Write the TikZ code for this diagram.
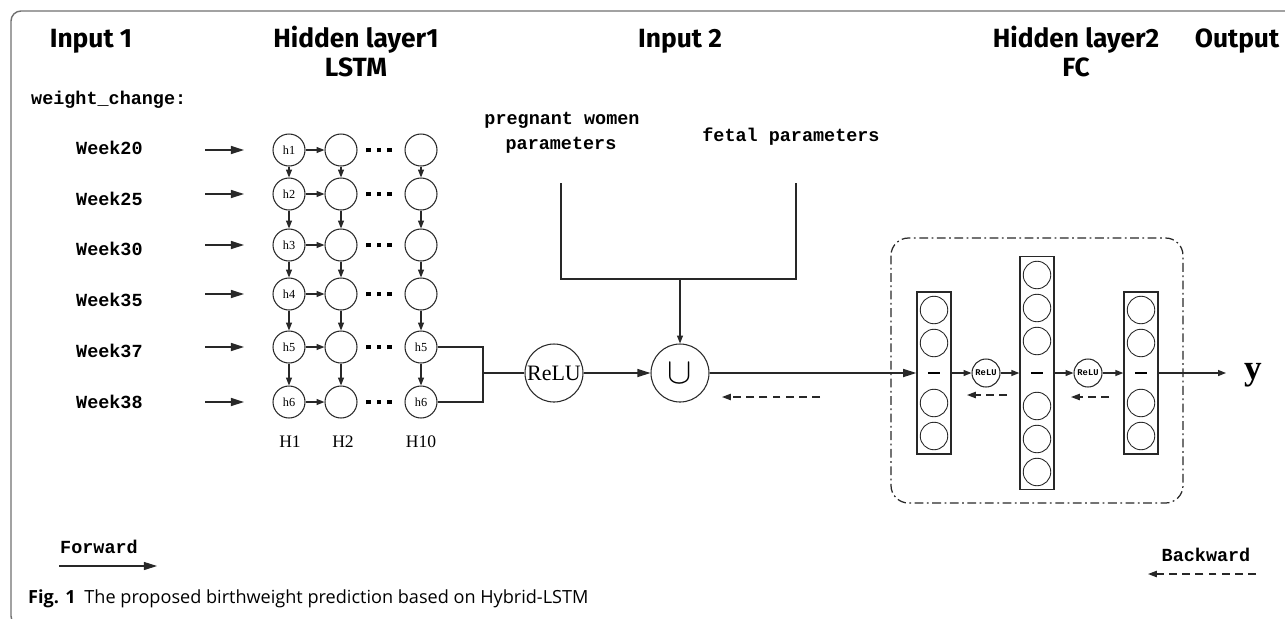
\documentclass[tikz,border=0pt]{standalone}
\usepackage{fontspec}
\setmainfont{Liberation Serif}
\newfontfamily\TitleFont{Fira Sans}
\newfontfamily\MonoFont{Liberation Mono}
\newfontfamily\CaptionFont{Open Sans}
\usepackage{xcolor}
\definecolor{Col1}{RGB}{40,40,40}
\definecolor{Col2}{RGB}{112,112,112}
\usepackage{tikz}
\usetikzlibrary{arrows.meta}
\tikzstyle{Title}=[font=\TitleFont\bfseries\fontsize{15}{15}\selectfont,anchor=base]
\tikzstyle{Mono}=[font=\MonoFont\bfseries\fontsize{10.5}{12}\selectfont]
\tikzstyle{Cell}=[circle,draw=Col1,line width=.6pt,minimum size=6.4mm,inner sep=0pt,
font=\fontsize{7}{7}\selectfont]
\tikzstyle{Edge}=[draw=Col1,line width=.7pt]
\tikzstyle{Arc}=[Edge,-{Triangle[length=4.5pt,width=3.4pt]}]
\tikzstyle{InArc}=[Edge,line width=.8pt,-{Triangle[length=7.5pt,width=4.6pt]}]
\tikzstyle{BackArc}=[Edge,dash pattern=on 4.5pt off 3pt,-{Triangle[length=5pt,width=3.6pt]}]
\tikzstyle{Act}=[circle,draw=Col1,line width=.6pt,minimum size=11.6mm,inner sep=0pt]
\tikzstyle{SmallAct}=[circle,draw=Col1,line width=.6pt,minimum size=5.6mm,inner sep=0pt,
font=\MonoFont\bfseries\fontsize{5}{5}\selectfont]
\tikzstyle{Unit}=[circle,draw=Col1,line width=.5pt,minimum size=5.5mm,inner sep=0pt]
\tikzstyle{Layer}=[rectangle,draw=Col1,line width=.8pt,minimum width=6.8mm,inner sep=0pt]
\tikzstyle{Bar}=[inner sep=0pt]
\newcommand{\Dots}{\rule{2.8pt}{2.8pt}\hspace{3.4pt}\rule{2.8pt}{2.8pt}\hspace{3.4pt}\rule{2.8pt}{2.8pt}}

\begin{document}
\begin{tikzpicture}[x=.2mm,y=-.2mm]
        \useasboundingbox(0,0)rectangle(1285,618);
        \draw[Col2,line width=.8pt,rounded corners=2mm](1295,11)--(11,11)--(11,626)--(60,626);
        % titles
        \node[Title](t1)at(91,47){Input 1};
        \node[Title](t2)at(356,47){Hidden layer1};
        \node[Title](t3)at(356,76){LSTM};
        \node[Title](t4)at(680,47){Input 2};
        \node[Title](t5)at(1076,47){Hidden layer2};
        \node[Title](t6)at(1076,76){FC};
        \node[Title](t7)at(1237,47){Output};
        % input 1
        \node[Mono,anchor=base west](wc)at(25,104){weight\_change:};
        \node[Mono,anchor=west](w1)at(70,148){Week20};
        \node[Mono,anchor=west](w2)at(70,199){Week25};
        \node[Mono,anchor=west](w3)at(70,249){Week30};
        \node[Mono,anchor=west](w4)at(70,300){Week35};
        \node[Mono,anchor=west](w5)at(70,351){Week37};
        \node[Mono,anchor=west](w6)at(70,402){Week38};
        \coordinate(s1)at(205,150);\coordinate(e1)at(244,150);
        \coordinate(s2)at(205,194);\coordinate(e2)at(244,194);
        \coordinate(s3)at(205,245);\coordinate(e3)at(244,245);
        \coordinate(s4)at(205,294);\coordinate(e4)at(244,294);
        \coordinate(s5)at(205,347);\coordinate(e5)at(244,347);
        \coordinate(s6)at(205,402);\coordinate(e6)at(244,402);
        \draw[InArc](s1)--(e1);
        \draw[InArc](s2)--(e2);
        \draw[InArc](s3)--(e3);
        \draw[InArc](s4)--(e4);
        \draw[InArc](s5)--(e5);
        \draw[InArc](s6)--(e6);
        % hidden layer 1
        \node[Cell](a1)at(289,150){h1};
        \node[Cell](a2)at(289,194){h2};
        \node[Cell](a3)at(289,245){h3};
        \node[Cell](a4)at(289,294){h4};
        \node[Cell](a5)at(289,347){h5};
        \node[Cell](a6)at(289,402){h6};
        \node[Cell](b1)at(341,150){};
        \node[Cell](b2)at(341,194){};
        \node[Cell](b3)at(341,245){};
        \node[Cell](b4)at(341,294){};
        \node[Cell](b5)at(341,347){};
        \node[Cell](b6)at(341,402){};
        \node[Cell](z1)at(421,150){};
        \node[Cell](z2)at(421,194){};
        \node[Cell](z3)at(421,245){};
        \node[Cell](z4)at(421,294){};
        \node[Cell](z5)at(421,347){h5};
        \node[Cell](z6)at(421,402){h6};
        \node[Bar](d1)at(379,150){\Dots};
        \node[Bar](d2)at(379,194){\Dots};
        \node[Bar](d3)at(379,245){\Dots};
        \node[Bar](d4)at(379,294){\Dots};
        \node[Bar](d5)at(379,347){\Dots};
        \node[Bar](d6)at(379,402){\Dots};
        \draw[Arc](a1)--(b1);
        \draw[Arc](a2)--(b2);
        \draw[Arc](a3)--(b3);
        \draw[Arc](a4)--(b4);
        \draw[Arc](a5)--(b5);
        \draw[Arc](a6)--(b6);
        \draw[Arc](a1)--(a2);
        \draw[Arc](a2)--(a3);
        \draw[Arc](a3)--(a4);
        \draw[Arc](a4)--(a5);
        \draw[Arc](a5)--(a6);
        \draw[Arc](b1)--(b2);
        \draw[Arc](b2)--(b3);
        \draw[Arc](b3)--(b4);
        \draw[Arc](b4)--(b5);
        \draw[Arc](b5)--(b6);
        \draw[Arc](z1)--(z2);
        \draw[Arc](z2)--(z3);
        \draw[Arc](z3)--(z4);
        \draw[Arc](z4)--(z5);
        \draw[Arc](z5)--(z6);
        \node(H1)at(290,442){H1};
        \node(H2)at(343,442){H2};
        \node(H10)at(421,442){H10};
        % input 2
        \node[Act,font=\fontsize{12.5}{12.5}\selectfont](R)at(554,373){ReLU};
        \node[Act](U)at(680,373){\fontsize{21}{21}\selectfont$\cup$};
        \coordinate(j)at(483,373);
        \draw[Edge](z5)-|(j);
        \draw[Edge](z6)-|(j);
        \draw[Edge](j)--(R);
        \draw[InArc](R)--(U);
        \node[Mono](p1)at(562,120){pregnant women};
        \node[Mono](p2)at(561,145){parameters};
        \node[Mono](p3)at(791,137){fetal parameters};
        \coordinate(g1)at(561,183);
        \coordinate(g2)at(561,279);
        \coordinate(g3)at(796,279);
        \coordinate(g4)at(796,183);
        \coordinate(g5)at(680,279);
        \draw[Edge](g1)--(g2)--(g3)--(g4);
        \draw[Arc](g5)--(U);
        \coordinate(k5)at(820,397);\coordinate(k6)at(722,397);
        \draw[BackArc](k5)--(k6);
        % hidden layer 2
        \draw[Edge,dash pattern=on 5pt off 2pt on 1pt off 2pt,rounded corners=3.5mm]
            (891,238)rectangle(1183,503);
        \node[Layer,minimum height=32.4mm](L1)at(934,373){};
        \node[Layer,minimum height=46.6mm](L2)at(1037,373){};
        \node[Layer,minimum height=32.4mm](L3)at(1141,373){};
        \node[Unit](u11)at(934,310){};
        \node[Unit](u12)at(934,343){};
        \node[Unit](u13)at(934,403){};
        \node[Unit](u14)at(934,436){};
        \node[Unit](u21)at(1037,275){};
        \node[Unit](u22)at(1037,308){};
        \node[Unit](u23)at(1037,341){};
        \node[Unit](u24)at(1037,406){};
        \node[Unit](u25)at(1037,439){};
        \node[Unit](u26)at(1037,472){};
        \node[Unit](u31)at(1141,310){};
        \node[Unit](u32)at(1141,343){};
        \node[Unit](u33)at(1141,403){};
        \node[Unit](u34)at(1141,436){};
        \node[Bar](m1)at(934,373){\rule{7pt}{1.3pt}};
        \node[Bar](m2)at(1037,373){\rule{7pt}{1.3pt}};
        \node[Bar](m3)at(1141,373){\rule{7pt}{1.3pt}};
        \node[SmallAct](q1)at(986,373){ReLU};
        \node[SmallAct](q2)at(1088,373){ReLU};
        \draw[InArc](U)--(L1);
        \draw[Arc](L1)--(q1);
        \draw[Arc](q1)--(L2);
        \draw[Arc](L2)--(q2);
        \draw[Arc](q2)--(L3);
        \coordinate(o)at(1226,373);
        \draw[Arc](L3)--(o);
        \node[font=\bfseries\fontsize{20}{20}\selectfont](y)at(1253,375){y};
        \coordinate(k1)at(1007,395);\coordinate(k2)at(967,395);
        \coordinate(k3)at(1109,397);\coordinate(k4)at(1071,397);
        \draw[BackArc](k1)--(k2);
        \draw[BackArc](k3)--(k4);
        % legend
        \node[Mono](fw)at(99,547){Forward};
        \coordinate(f1)at(59,566);\coordinate(f2)at(157,566);
        \draw[InArc,line width=.6pt](f1)--(f2);
        \node[Mono](bw)at(1206,555){Backward};
        \coordinate(f3)at(1256,574);\coordinate(f4)at(1148,574);
        \draw[BackArc](f3)--(f4);
        \node[anchor=base west,font=\CaptionFont\fontsize{10.3}{12}\selectfont](cap)at(22,603)
            {\textbf{Fig. 1}\hspace{5pt}The proposed birthweight prediction based on Hybrid-LSTM};
    \end{tikzpicture}
\end{document}
